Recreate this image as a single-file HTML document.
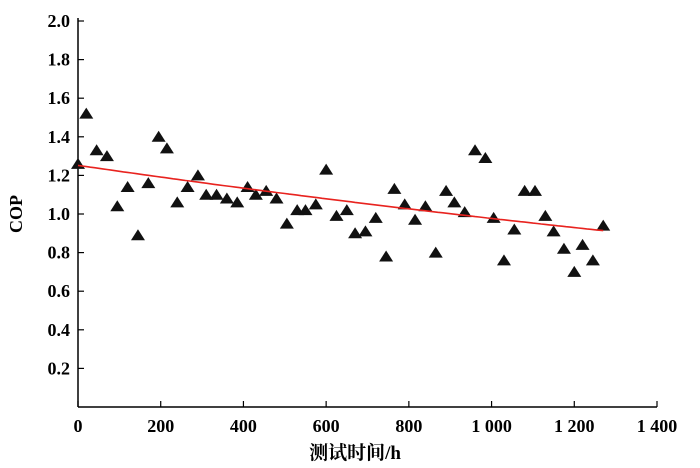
<!DOCTYPE html>
<html><head><meta charset="utf-8"><style>
body{margin:0;background:#fff}
svg{display:block;font-family:"Liberation Serif","Noto Serif CJK SC",serif}
</style></head><body>
<svg id="chart" width="700" height="468"></svg>
<script>
const hours=[0,20,45,70,95,120,145,170,195,215,240,265,290,310,335,360,385,410,430,455,480,505,530,550,575,600,625,650,670,695,720,745,765,790,815,840,865,890,910,935,960,985,1005,1030,1055,1080,1105,1130,1150,1175,1200,1220,1245,1270];
const cop=[1.26,1.52,1.33,1.30,1.04,1.14,0.89,1.16,1.40,1.34,1.06,1.14,1.20,1.10,1.10,1.08,1.06,1.14,1.10,1.12,1.08,0.95,1.02,1.02,1.05,1.23,0.99,1.02,0.90,0.91,0.98,0.78,1.13,1.05,0.97,1.04,0.80,1.12,1.06,1.01,1.33,1.29,0.98,0.76,0.92,1.12,1.12,0.99,0.91,0.82,0.70,0.84,0.76,0.94];
const xTicks=[0,200,400,600,800,1000,1200,1400];
const xTickLabels=["0","200","400","600","800","1 000","1 200","1 400"];
const yTicks=[0.2,0.4,0.6,0.8,1.0,1.2,1.4,1.6,1.8,2.0];
const fitA=1.252, fitK=0.000248, fitEnd=1270;
const NS="http://www.w3.org/2000/svg";
const svg=document.getElementById('chart');
const X=v=>78+v*(657-78)/1400;
const Y=v=>407-v*(407-21)/2.0;
function mk(t,a,txt){const e=document.createElementNS(NS,t);for(const k in a)e.setAttribute(k,a[k]);if(txt!==undefined)e.textContent=txt;svg.appendChild(e);return e;}
let e;
e=mk('line',{x1:78,y1:407,x2:657,y2:407,stroke:'#000','stroke-width':1.5});


e=mk('line',{x1:78,y1:407,x2:78,y2:18,stroke:'#000','stroke-width':1.5});


xTicks.forEach((v,i)=>{
 e=mk('line',{x1:X(v),y1:407,x2:X(v),y2:401,stroke:'#000','stroke-width':1.2});
 
 
 e=mk('text',{x:X(v),y:432,'text-anchor':'middle','font-size':18,'font-weight':'bold'},xTickLabels[i]);
 
 
});
yTicks.forEach(v=>{
 e=mk('line',{x1:78,y1:Y(v),x2:84,y2:Y(v),stroke:'#000','stroke-width':1.2});
 
 
 e=mk('text',{x:70,y:Y(v)+6,'text-anchor':'end','font-size':18,'font-weight':'bold'},v.toFixed(1));
 
 
});
e=mk('text',{x:355,y:459,'text-anchor':'middle','font-size':19,'font-weight':'bold'},'测试时间/h');


e=mk('text',{x:22,y:214,'text-anchor':'middle','font-size':18,'font-weight':'bold',transform:'rotate(-90 22 214)'},'COP');


hours.forEach((h,i)=>{
 const cx=X(h),cy=Y(cop[i]);
 e=mk('polygon',{points:`${cx-7},${cy+5} ${cx+7},${cy+5} ${cx},${cy-6}`,fill:'#111'});
 
 
});
let d='';
for(let h=0;h<=fitEnd;h+=10){d+=(h?'L':'M')+X(h).toFixed(1)+','+Y(fitA*Math.exp(-fitK*h)).toFixed(1);}
e=mk('path',{d:d,fill:'none',stroke:'#e8231f','stroke-width':1.6});


</script>
</body></html>
